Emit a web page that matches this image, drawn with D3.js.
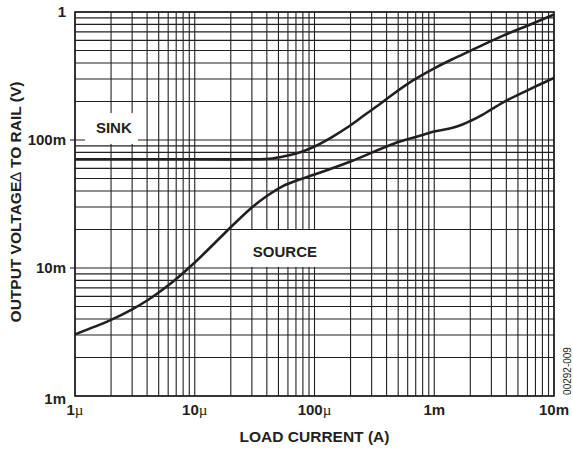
<!DOCTYPE html>
<html>
<head>
<meta charset="utf-8">
<script src="https://cdn.jsdelivr.net/npm/d3@7"></script>
<style>
    body { margin: 0; background: #fff; }
    svg { display: block; }
    text { font-family: "Liberation Sans", Arial, sans-serif; font-weight: bold; fill: #231f20; }
</style>
</head>
<body>
<div id="chart"></div>
<script>
;(function () {

    // load current (A) and output voltage to rail (V)
    var sinkCurrent = [1e-6, 10e-6, 33e-6, 42e-6, 56e-6, 75e-6, 100e-6, 140e-6, 196e-6, 260e-6, 350e-6, 464e-6, 680e-6,
        1e-3, 1.4e-3, 2e-3, 3.8e-3, 6.2e-3, 10e-3];
    var sinkVoltage = [0.0707, 0.0707, 0.0707, 0.0713, 0.0746, 0.0798, 0.089, 0.1055, 0.1286, 0.156, 0.19, 0.232, 0.296,
        0.363, 0.4255, 0.4975, 0.6565, 0.791, 0.955];

    var sourceCurrent = [1e-6, 2e-6, 3e-6, 4e-6, 5e-6, 6.8e-6, 10e-6, 14.7e-6, 21.5e-6, 30e-6, 40e-6, 54e-6, 75e-6, 100e-6,
        200e-6, 464e-6, 700e-6, 1e-3, 1.4e-3, 1.7e-3, 2e-3, 2.5e-3, 3e-3, 4e-3, 6e-3, 8e-3, 10e-3];
    var sourceVoltage = [0.00303, 0.00393, 0.00475, 0.00557, 0.00644, 0.00803, 0.01104, 0.01568, 0.02227, 0.0297, 0.03652, 0.04348, 0.04914, 0.05376,
        0.068, 0.0939, 0.1055, 0.1165, 0.124, 0.1314, 0.1407, 0.1565, 0.1735, 0.203, 0.2445, 0.2777, 0.305];

    var xTickValues = [1e-6, 1e-5, 1e-4, 1e-3, 1e-2];
    var xTickNumbers = ['1', '10', '100', '1m', '10m'];
    var xTickMicro = [true, true, true, false, false];

    var yTickValues = [1, 0.1, 0.01, 0.001];
    var yTickLabels = ['1', '100m', '10m', '1m'];

    // label boxes in data coordinates
    var labelText = ['SINK', 'SOURCE'];
    var labelX = [2.11e-6, 56.6e-6];
    var labelY = [0.1133, 0.01213];
    var boxX = [[1.21e-6, 3.35e-6], [20.5e-6, 195e-6]];
    var boxY = [[0.1623, 0.0932], [0.0198, 0.0102]];

    var width = 573
        , height = 450
        , left = 75
        , right = 554
        , top = 12
        , bottom = 396
        , ink = '#231f20';

    var svg = d3.select('#chart').append('svg')
        .attr('width', width)
        .attr('height', height);

    var x = d3.scaleLog().domain([1e-6, 1e-2]).range([left, right]);
    var y = d3.scaleLog().domain([1e-3, 1]).range([bottom, top]);

    // grid
    var grid = svg.append('g').attr('stroke', ink).attr('stroke-width', 1.1);
    grid.selectAll('.vx')
        .data(x.ticks())
        .enter().append('line')
        .attr('x1', function (d) { return x(d); })
        .attr('x2', function (d) { return x(d); })
        .attr('y1', top)
        .attr('y2', bottom);
    grid.selectAll('.hy')
        .data(y.ticks())
        .enter().append('line')
        .attr('y1', function (d) { return y(d); })
        .attr('y2', function (d) { return y(d); })
        .attr('x1', left)
        .attr('x2', right);

    // small outer ticks on the left
    grid.selectAll('.yt')
        .data(yTickValues.slice(1, 3))
        .enter().append('line')
        .attr('y1', function (d) { return y(d); })
        .attr('y2', function (d) { return y(d); })
        .attr('x1', left - 5)
        .attr('x2', left);

    // white boxes behind labels
    svg.selectAll('.box')
        .data(labelText)
        .enter().append('rect')
        .attr('fill', '#fff')
        .attr('x', function (d, i) { return x(boxX[i][0]); })
        .attr('width', function (d, i) { return x(boxX[i][1]) - x(boxX[i][0]); })
        .attr('y', function (d, i) { return y(boxY[i][0]); })
        .attr('height', function (d, i) { return y(boxY[i][1]) - y(boxY[i][0]); });

    svg.selectAll('.lbl')
        .data(labelText)
        .enter().append('text')
        .attr('x', function (d, i) { return x(labelX[i]); })
        .attr('y', function (d, i) { return y(labelY[i]); })
        .attr('text-anchor', 'middle')
        .style('font-size', '15px')
        .text(function (d) { return d; });

    // curves
    var line = d3.line()
        .x(function (d) { return x(d[0]); })
        .y(function (d) { return y(d[1]); })
        .curve(d3.curveCatmullRom.alpha(0.5));

    var series = [d3.zip(sinkCurrent, sinkVoltage), d3.zip(sourceCurrent, sourceVoltage)];
    svg.selectAll('.curve')
        .data(series)
        .enter().append('path')
        .attr('fill', 'none')
        .attr('stroke', ink)
        .attr('stroke-width', 2.6)
        .attr('stroke-linejoin', 'round')
        .attr('d', line);

    // frame
    svg.append('rect')
        .attr('x', left)
        .attr('y', top)
        .attr('width', right - left)
        .attr('height', bottom - top)
        .attr('fill', 'none')
        .attr('stroke', ink)
        .attr('stroke-width', 1.6);

    // y tick labels
    svg.selectAll('.ylab')
        .data(yTickValues)
        .enter().append('text')
        .attr('x', 66)
        .attr('y', function (d, i) { return y(d) + (i === 3 ? 8 : 5); })
        .attr('text-anchor', 'end')
        .style('font-size', '15px')
        .text(function (d, i) { return yTickLabels[i]; });

    // x tick labels
    var xl = svg.selectAll('.xlab')
        .data(xTickValues)
        .enter().append('text')
        .attr('x', function (d) { return x(d); })
        .attr('y', 415)
        .attr('text-anchor', 'middle')
        .style('font-size', '15px');
    xl.append('tspan').text(function (d, i) { return xTickNumbers[i]; });
    xl.filter(function (d, i) { return xTickMicro[i]; })
        .append('tspan')
        .style('font-family', '"Liberation Serif", serif')
        .style('font-weight', 'normal')
        .text('\u00b5');

    // axis titles
    svg.append('text')
        .attr('x', (left + right) / 2)
        .attr('y', 442)
        .attr('text-anchor', 'middle')
        .style('font-size', '15.5px')
        .text('LOAD CURRENT (A)');

    var yTitle = svg.append('text')
        .attr('transform', 'translate(21,' + ((top + bottom) / 2 - 2) + ') rotate(-90)')
        .attr('text-anchor', 'middle')
        .style('font-size', '15.5px');
    yTitle.append('tspan').text('OUTPUT VOLTAGE');
    yTitle.append('tspan').style('font-weight', 'normal').text('\u2206');
    yTitle.append('tspan').text(' TO RAIL (V)');

    svg.append('text')
        .attr('transform', 'translate(571,371) rotate(-90)')
        .attr('text-anchor', 'middle')
        .style('font-size', '10px')
        .style('font-weight', 'normal')
        .text('00292-009');

}());
</script>
</body>
</html>
